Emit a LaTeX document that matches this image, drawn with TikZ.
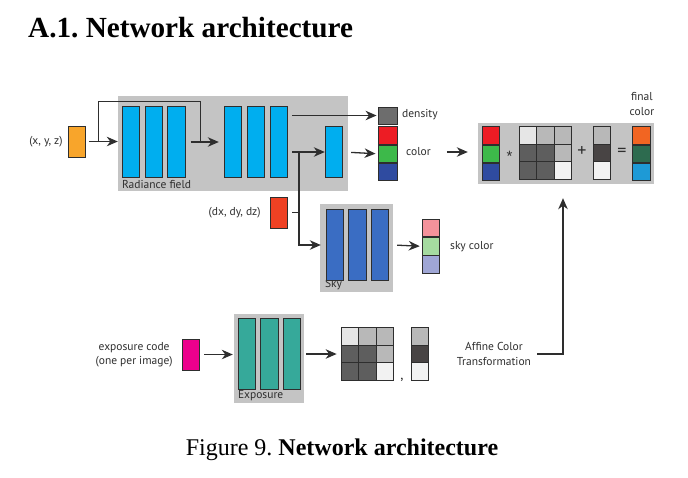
\documentclass[tikz,border=0pt]{standalone}
\usepackage{fontspec}
\setmainfont{Liberation Serif}
\newfontfamily\diagfont{PT Sans}
\newfontfamily\symfont{Liberation Sans}
\usetikzlibrary{arrows.meta}
\frenchspacing

\definecolor{panelgray}{HTML}{C4C4C4}
\definecolor{linegray}{HTML}{2E2E2E}
\definecolor{fieldblue}{HTML}{00AEEF}
\definecolor{skyblue}{HTML}{3A6DC3}
\definecolor{expoteal}{HTML}{36A99A}
\definecolor{xyzorange}{HTML}{F8A52B}
\definecolor{dxred}{HTML}{EF4123}
\definecolor{codepink}{HTML}{EC008C}
\definecolor{densgray}{HTML}{6D6D6D}
\definecolor{colred}{HTML}{ED1C24}
\definecolor{colgreen}{HTML}{3DB94A}
\definecolor{colblue}{HTML}{2F4BA0}
\definecolor{finorange}{HTML}{F26522}
\definecolor{fingreen}{HTML}{2D6B4F}
\definecolor{finblue}{HTML}{1E9AD6}
\definecolor{skypink}{HTML}{F4929B}
\definecolor{skygreen}{HTML}{A5DBA0}
\definecolor{skylav}{HTML}{9FA6D5}
\definecolor{lgray}{HTML}{E6E6E6}
\definecolor{mgray}{HTML}{B8B8B8}
\definecolor{dgray}{HTML}{5E5E5E}
\definecolor{vgray}{HTML}{484444}
\definecolor{wgray}{HTML}{F2F2F2}

\tikzset{
  panel/.style={fill=panelgray, draw=none, inner sep=0pt},
  paneltxt/.style={font=\diagfont\fontsize{11.5}{14}\selectfont, inner sep=0pt, text=linegray, anchor=south west},
  bar/.style={draw=linegray, line width=0.9pt, inner sep=0pt, minimum width=17.5pt, minimum height=71.5pt},
  cell/.style={draw=linegray, line width=0.9pt, inner sep=0pt, minimum width=17.6pt, minimum height=17.4pt},
  lbl/.style={font=\diagfont\fontsize{11.5}{14.5}\selectfont, inner sep=1pt, text=linegray},
  sym/.style={font=\diagfont\fontsize{18}{18}\selectfont, inner sep=0pt, text=linegray},
  arr/.style={-{Stealth[length=11pt,width=9.5pt,inset=3.5pt]}, line width=1.3pt, draw=linegray},
  wire/.style={line width=1.3pt, draw=linegray},
}

% 3x3 colour matrix: name, centre x, centre y
\newcommand{\affmatrix}[3]{%
  \foreach \c [count=\k from 0] in {lgray,mgray,mgray,dgray,dgray,mgray,dgray,dgray,wgray} {
    \pgfmathtruncatemacro{\mrow}{\k/3}
    \pgfmathtruncatemacro{\mcol}{mod(\k,3)}
    \node[cell, fill=\c] (#1\k) at ({#2+(\mcol-1)*17.6},{#3+(\mrow-1)*17.4}) {};
  }}
% 3x1 offset vector: name, centre x, centre y
\newcommand{\affvector}[3]{%
  \foreach \c [count=\k from 0] in {mgray,vgray,wgray}
    \node[cell, fill=\c] (#1\k) at (#2,{#3+(\k-1)*17.4}) {};
}

\begin{document}
\begin{tikzpicture}[x=1pt,y=-1pt]
\useasboundingbox (0,0) rectangle (688,477);

\node[anchor=base west, inner sep=0pt, font=\bfseries\fontsize{29.2}{34}\selectfont] (title) at (28,37) {A.1. Network architecture};

% radiance field
\node[panel, minimum width=230pt, minimum height=95pt] (rad) at (233,143.5) {};
\node[paneltxt] (radtxt) at ([xshift=4pt,yshift=2pt]rad.south west) {Radiance field};
\foreach \i/\x in {1/131,2/154,3/176.5,4/233,5/256,6/279}
  \node[bar, fill=fieldblue] (r\i) at (\x,142) {};
\node[bar, fill=fieldblue, minimum height=51.5pt] (r7) at (334,152) {};

\node[bar, fill=xyzorange, minimum height=31pt] (xyz) at (77,141.5) {};
\node[lbl, anchor=east] (xyztxt) at ([xshift=-4pt]xyz.west) {(x, y, z)};

\draw[arr, shorten <=3pt] (xyz.east) -- (xyz.east -| rad.west);
\coordinate (skipa) at ([xshift=12pt]xyz.east);
\coordinate (skipb) at ([xshift=15pt]r3.east);
\draw[wire] (skipa) -- ++(0,-40) -| (skipb);
\draw[arr, shorten <=5pt, shorten >=5pt] (r3.east) -- (r4.west);

% outputs of the field
\node[cell, fill=densgray, minimum width=19pt, minimum height=17pt] (dens) at (387.5,115.5) {};
\node[lbl, anchor=west] (denstxt) at (401,115) {density};
\draw[arr, shorten <=4pt, shorten >=1pt] (dens.west -| r6.east) -- (dens.west);
\draw[arr, shorten <=4pt] (r7.west -| r6.east) -- (r7.west);
\coordinate (jn) at (299,152);

\node[cell, fill=colred, minimum width=19pt] (colr) at (387.5,135.5) {};
\node[cell, fill=colgreen, minimum width=19pt, anchor=north] (colg) at (colr.south) {};
\node[cell, fill=colblue, minimum width=19pt, anchor=north] (colb) at (colg.south) {};
\node[lbl, anchor=west] (colortxt) at (405,152) {color};
\draw[arr, shorten <=8pt, shorten >=2pt] (r7.east) -- (colg.west);

% affine colour correction
\node[panel, minimum width=176pt, minimum height=61pt] (fin) at (566,153.5) {};
\draw[arr, shorten <=15pt, shorten >=10pt] (colortxt.east) -- (colortxt.east -| fin.west);
\node[cell, fill=colred] (ar) at (491,135.5) {};
\node[cell, fill=colgreen, anchor=north] (ag) at (ar.south) {};
\node[cell, fill=colblue, anchor=north] (ab) at (ag.south) {};
\node[font=\symfont\fontsize{15}{15}\selectfont, inner sep=0pt, text=linegray] (times) at (509.5,156.5) {*};
\affmatrix{fm}{545.5}{153}
\node[sym] (plus) at (582,152) {+};
\affvector{fv}{602}{153}
\node[sym] (equals) at (622,152) {=};
\node[cell, fill=finorange] (fo) at (641.5,135.5) {};
\node[cell, fill=fingreen, anchor=north] (fg) at (fo.south) {};
\node[cell, fill=finblue, anchor=north] (fb) at (fg.south) {};
\node[lbl, align=center] (fintxt) at (642,104) {final\\color};

% sky
\node[panel, minimum width=73pt, minimum height=88pt] (sky) at (356.5,248) {};
\node[paneltxt] (skytxt) at ([xshift=5pt,yshift=2pt]sky.south west) {Sky};
\foreach \i/\x in {1/335,2/357.5,3/380}
  \node[bar, fill=skyblue] (s\i) at (\x,245) {};
\node[bar, fill=dxred, minimum height=31pt] (dxz) at (279,212.5) {};
\node[lbl, anchor=east] (dxtxt) at ([xshift=-8pt]dxz.west) {(dx, dy, dz)};
\draw[wire, shorten <=4pt] (dxz.east) -- (dxz.east -| jn);
\draw[arr, shorten >=5pt] (jn) |- (s1.west);

\node[cell, fill=skypink] (skyp) at (431,228) {};
\node[cell, fill=skygreen, anchor=north] (skyg) at (skyp.south) {};
\node[cell, fill=skylav, anchor=north] (skyl) at (skyg.south) {};
\node[lbl, anchor=west] (skycoltxt) at (449,247) {sky color};
\draw[arr, shorten <=4pt, shorten >=2pt] (s3.east -| sky.east) -- (skyg.west);

% exposure
\node[panel, minimum width=70pt, minimum height=89pt] (expo) at (269,358.5) {};
\node[paneltxt] (expotxt) at ([xshift=4pt,yshift=2pt]expo.south west) {Exposure};
\foreach \i/\x in {1/247,2/269.5,3/292}
  \node[bar, fill=expoteal] (e\i) at (\x,354) {};
\node[bar, fill=codepink, minimum height=31pt] (code) at (191,354.5) {};
\node[lbl, align=center, anchor=east] (codetxt) at ([xshift=-8pt]code.west) {exposure code\\(one per image)};
\draw[arr, shorten <=4pt, shorten >=1pt] (code.east) -- (code.east -| expo.west);

\affmatrix{em}{367.5}{354}
\node[lbl, anchor=base, inner sep=0pt, font=\diagfont\fontsize{14}{14}\selectfont] (comma) at (402,379) {,};
\affvector{ev}{420}{354}
\draw[arr, shorten <=2pt, shorten >=4pt] (em3.west -| expo.east) -- (em3.west);

\node[lbl, align=center] (afftxt) at (494,354) {Affine Color\\Transformation};
\draw[arr, shorten <=5pt, shorten >=14pt] (afftxt.east) -| ([xshift=-3pt]fin.south);

\node[anchor=base, inner sep=0pt, font=\fontsize{24}{28}\selectfont] (caption) at (342,455) {Figure 9. \textbf{Network architecture}};
\end{tikzpicture}
\end{document}
